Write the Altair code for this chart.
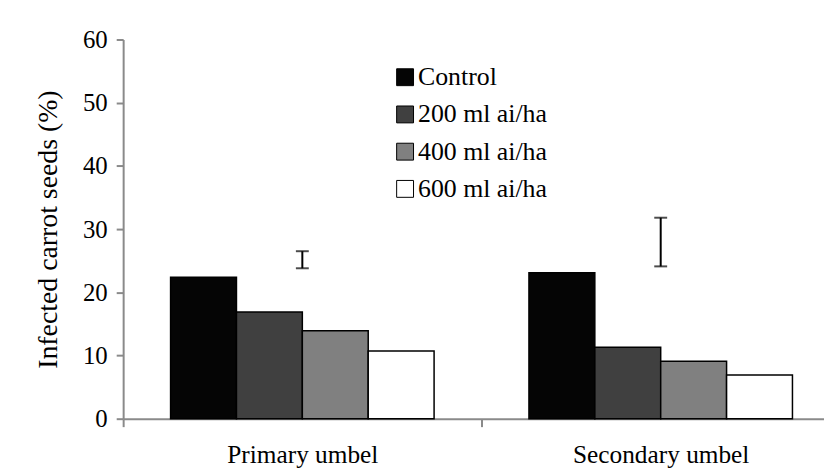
import altair as alt
import pandas as pd

categories = ["Primary umbel", "Secondary umbel"]
treatments = ["Control", "200 ml ai/ha", "400 ml ai/ha", "600 ml ai/ha"]
primary_values = [22.4, 16.9, 13.9, 10.7]
secondary_values = [23.1, 11.3, 9.1, 6.9]
err_low = [23.8, 24.1]
err_high = [26.5, 31.8]
colors = ["#050505", "#404040", "#808080", "#ffffff"]

rows = []
for t, v in zip(treatments, primary_values):
    rows.append({"umbel": categories[0], "treatment": t, "value": v})
for t, v in zip(treatments, secondary_values):
    rows.append({"umbel": categories[1], "treatment": t, "value": v})
df = pd.DataFrame(rows)
err_df = pd.DataFrame({"umbel": categories, "lo": err_low, "hi": err_high})

FONT = "Liberation Serif"
AXIS_GRAY = "#8a8a8a"

x_enc = alt.X(
    "umbel:N",
    sort=categories,
    title=None,
    scale=alt.Scale(range=[0, 722], paddingInner=0, paddingOuter=0),
    axis=alt.Axis(
        labelAngle=0, labelFont=FONT, labelFontSize=25.5, labelColor="black",
        labelPadding=16, tickBand="extent", tickSize=8, tickColor=AXIS_GRAY,
        tickWidth=2, domainColor=AXIS_GRAY, domainWidth=2,
    ),
)

bars = alt.Chart(df).mark_bar(stroke="black", strokeWidth=1.5).encode(
    x=x_enc,
    xOffset=alt.XOffset("treatment:N", sort=treatments,
                        scale=alt.Scale(paddingInner=0, paddingOuter=0.72)),
    y=alt.Y(
        "value:Q",
        title="Infected carrot seeds (%)",
        scale=alt.Scale(domain=[0, 60]),
        axis=alt.Axis(
            values=[0, 10, 20, 30, 40, 50, 60], grid=False,
            labelFont=FONT, labelFontSize=25, labelColor="black", labelPadding=9,
            tickSize=7, tickColor=AXIS_GRAY, tickWidth=2,
            domainColor=AXIS_GRAY, domainWidth=2,
            titleFont=FONT, titleFontSize=28, titleFontWeight="normal",
            titleColor="black", titlePadding=20,
        ),
    ),
    color=alt.Color(
        "treatment:N", sort=treatments,
        scale=alt.Scale(domain=treatments, range=colors),
        legend=alt.Legend(
            title=None, orient="none", legendX=271, legendY=25,
            symbolType="square", symbolSize=289, symbolStrokeColor="black",
            symbolStrokeWidth=1, symbolOpacity=1,
            labelFont=FONT, labelFontSize=26, labelColor="black",
            labelOffset=0, rowPadding=11.5, padding=0,
        ),
    ),
)

rule = alt.Chart(err_df).mark_rule(color="black", strokeWidth=2).encode(
    x=alt.X("umbel:N", sort=categories),
    y="lo:Q",
    y2="hi:Q",
)
cap_lo = alt.Chart(err_df).mark_tick(color="black", size=13, thickness=2, orient="horizontal").encode(
    x=alt.X("umbel:N", sort=categories),
    y="lo:Q",
)
cap_hi = alt.Chart(err_df).mark_tick(color="black", size=13, thickness=2, orient="horizontal").encode(
    x=alt.X("umbel:N", sort=categories),
    y="hi:Q",
)

chart = alt.layer(bars, rule, cap_lo, cap_hi).properties(
    width=706,
    height=382,
    autosize=alt.AutoSizeParams(type="none"),
    padding={"left": 116, "top": 30, "right": 0, "bottom": 54},
).configure_view(stroke=None)

chart.save("out.html", embed_options={"renderer": "svg", "actions": False})
